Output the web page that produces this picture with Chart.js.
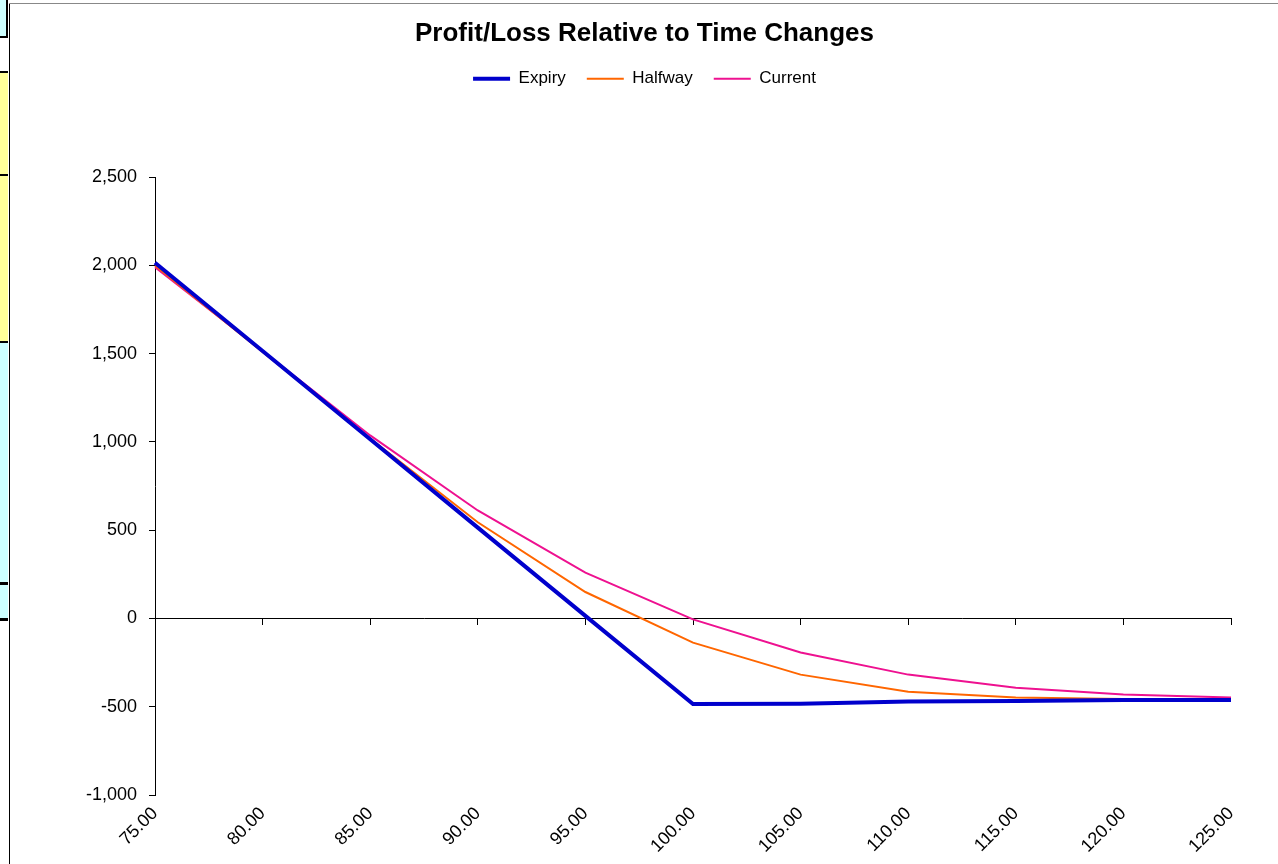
<!DOCTYPE html>
<html>
<head>
<meta charset="utf-8">
<script src="https://cdn.jsdelivr.net/npm/chart.js@4.4.0/dist/chart.umd.min.js"></script>
<style>
  html, body { margin: 0; padding: 0; background: #fff; }
  #wrap { position: relative; width: 1278px; height: 864px; overflow: hidden; }
  #wrap canvas { position: absolute; left: 0; top: 0; }
  .cell { position: absolute; left: 0; width: 8px; }
  .edge { position: absolute; background: #000; }
</style>
</head>
<body>
<div id="wrap">
  <canvas id="myChart" width="1278" height="864"></canvas>
  <!-- bits of the spreadsheet showing at the left edge -->
  <div class="cell" style="top:0;height:36px;background:#ccffff;border-right:2px solid #000;border-bottom:2px solid #000;width:6px"></div>
  <div class="cell" style="top:71px;height:2px;background:#000"></div>
  <div class="cell" style="top:73px;height:101px;background:#ffff99"></div>
  <div class="cell" style="top:174px;height:2px;background:#000"></div>
  <div class="cell" style="top:176px;height:165px;background:#ffff99"></div>
  <div class="cell" style="top:341px;height:2px;background:#000"></div>
  <div class="cell" style="top:343px;height:239px;background:#ccffff"></div>
  <div class="cell" style="top:582px;height:3px;background:#000"></div>
  <div class="cell" style="top:585px;height:33px;background:#ccffff"></div>
  <div class="cell" style="top:618px;height:3px;background:#000"></div>
  <div class="edge" style="left:9px;top:3px;width:1px;height:861px"></div>
  <div class="edge" style="left:9px;top:3px;width:1269px;height:1px;background:#888"></div>
</div>
<script>
// underlying price
const prices = ['75.00', '80.00', '85.00', '90.00', '95.00', '100.00', '105.00', '110.00', '115.00', '120.00', '125.00'];

// profit/loss per series
const expiry  = [2015, 1515, 1015, 515, 15, -485, -483, -470, -468, -462, -462];
const halfway = [2000, 1510, 1020, 545, 150, -137, -318, -415, -447, -456, -458];
const current = [1990, 1515, 1037, 612, 260, -5, -193, -318, -393, -431, -447];

const yMin = -1000;
const yMax = 2500;
const yStep = 500;

const FONT = "'Liberation Sans', Arial, sans-serif";

// push the plot area down below the legend
const legendSpacer = {
    id: 'legendSpacer',
    beforeInit(chart) {
        const origFit = chart.legend.fit;
        chart.legend.fit = function () {
            origFit.call(this);
            this.height += 80;
        };
    }
};

const ctx = document.getElementById('myChart').getContext('2d');
new Chart(ctx, {
    type: 'line',
    data: {
        labels: prices,
        datasets: [{
            label: 'Expiry',
            data: expiry,
            borderColor: '#0000CC',
            backgroundColor: '#0000CC',
            borderWidth: 4
        }, {
            label: 'Halfway',
            data: halfway,
            borderColor: '#FF6600',
            backgroundColor: '#FF6600',
            borderWidth: 2
        }, {
            label: 'Current',
            data: current,
            borderColor: '#EE1190',
            backgroundColor: '#EE1190',
            borderWidth: 2
        }]
    },
    options: {
        responsive: false,
        animation: false,
        layout: { padding: { left: 58, right: 47, top: 0, bottom: 0 } },
        elements: {
            point: { radius: 0, hoverRadius: 0 },
            line: { tension: 0 }
        },
        plugins: {
            title: {
                display: true,
                text: 'Profit/Loss Relative to Time Changes',
                color: '#000',
                font: { family: FONT, size: 26, weight: 'bold' },
                padding: { top: 18, bottom: 0 }
            },
            legend: {
                display: true,
                labels: {
                    color: '#000',
                    font: { family: FONT, size: 17 },
                    usePointStyle: true,
                    pointStyle: 'line',
                    pointStyleWidth: 37,
                    padding: 21
                }
            },
            tooltip: { enabled: false }
        },
        scales: {
            // axis line through zero, with tick marks only
            x: {
                type: 'category',
                position: { y: 0 },
                offset: false,
                ticks: { display: false },
                grid: {
                    display: true,
                    drawOnChartArea: false,
                    drawTicks: true,
                    tickLength: 6,
                    color: '#000'
                },
                border: { display: true, color: '#000', width: 1 }
            },
            // labels at the bottom
            x2: {
                type: 'category',
                position: 'bottom',
                offset: false,
                grid: { display: false, drawTicks: false },
                border: { display: false },
                ticks: {
                    color: '#000',
                    font: { family: FONT, size: 18 },
                    minRotation: 45,
                    maxRotation: 45,
                    autoSkip: false,
                    padding: 8
                },
                afterFit(scale) { scale.height = 69; }
            },
            y: {
                min: yMin,
                max: yMax,
                ticks: {
                    stepSize: yStep,
                    color: '#000',
                    font: { family: FONT, size: 18 },
                    padding: 12
                },
                grid: {
                    drawOnChartArea: false,
                    drawTicks: true,
                    tickLength: 6,
                    color: '#000'
                },
                border: { display: true, color: '#000', width: 1 },
                afterFit(scale) { scale.width = 97; }
            }
        }
    },
    plugins: [legendSpacer]
});
</script>
</body>
</html>
